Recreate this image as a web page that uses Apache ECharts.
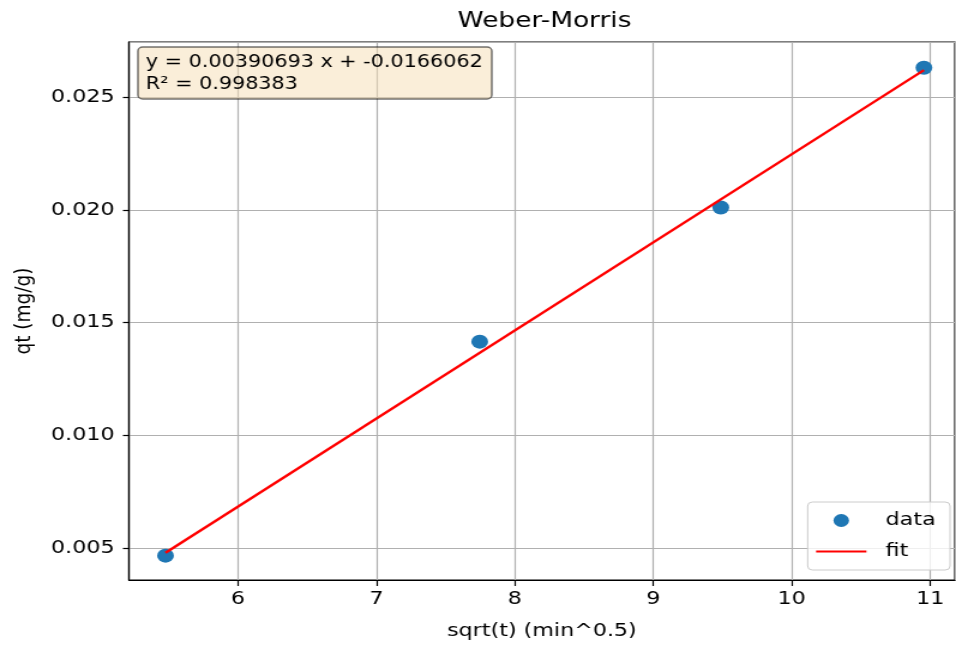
<!DOCTYPE html>
<html>
<head>
<meta charset="utf-8">
<script src="https://cdn.jsdelivr.net/npm/echarts@6/dist/echarts.min.js"></script>
<style>
  html, body { margin: 0; padding: 0; background: #fff; overflow: hidden; }
  /* the reference image is stretched sideways, so draw narrower and widen it */
  #main { width: 797px; height: 649px; transform: scaleX(1.1995); transform-origin: 0 0; }
</style>
</head>
<body>
<div id="main"></div>
<script>
var sqrtT = [5.477, 7.746, 9.487, 10.954];
var qt = [0.00466, 0.01415, 0.02010, 0.02630];
var fitX = [5.477, 10.954];
var fitY = [0.00479, 0.02619];
var fitText = ['y = 0.00390693 x + -0.0166062', 'R\u00b2 = 0.998383'];

var FONT = 'DejaVu Sans';

var chart = echarts.init(document.getElementById('main'));

function pairs(xs, ys) {
    return xs.map(function (x, i) { return [x, ys[i]]; });
}

chart.setOption({
    animation: false,
    backgroundColor: '#fff',
    title: {
        text: 'Weber-Morris',
        left: 454,
        top: 10,
        padding: 0,
        textAlign: 'center',
        textStyle: { fontFamily: FONT, fontSize: 22, fontWeight: 'normal', color: '#000' }
    },
    grid: {
        left: 107.5, right: 1, top: 42, bottom: 69,
        show: true, borderColor: '#000', borderWidth: 1.2, backgroundColor: 'transparent'
    },
    legend: {
        orient: 'vertical',
        right: 5,
        bottom: 79,
        data: [
            { name: 'data' },
            { name: 'fit', itemStyle: { opacity: 0 } }
        ],
        itemWidth: 42,
        itemHeight: 13,
        itemGap: 12,
        padding: [9, 12, 9, 6],
        backgroundColor: 'rgba(255,255,255,0.8)',
        borderColor: '#cccccc',
        borderWidth: 1,
        borderRadius: 4,
        textStyle: { fontFamily: FONT, fontSize: 18.5, color: '#000', padding: [0, 0, 0, 11] }
    },
    xAxis: {
        type: 'value',
        min: 5.213,
        max: 11.177,
        name: 'sqrt(t) (min^0.5)',
        nameLocation: 'middle',
        nameGap: 42,
        nameTextStyle: { fontFamily: FONT, fontSize: 18.5, color: '#000' },
        axisLine: { lineStyle: { color: '#000', width: 1.2 } },
        axisTick: { show: true, length: 6, lineStyle: { color: '#000', width: 1.2 } },
        axisLabel: {
            fontFamily: FONT, fontSize: 18.5, color: '#000', margin: 10,
            showMinLabel: false, showMaxLabel: false,
            formatter: function (v) { return String(Math.round(v)); }
        },
        splitLine: { show: true, lineStyle: { color: '#b0b0b0', width: 1.2 } }
    },
    yAxis: {
        type: 'value',
        min: 0.003581,
        max: 0.027439,
        name: 'qt (mg/g)',
        nameLocation: 'middle',
        nameGap: 78,
        nameTextStyle: { fontFamily: FONT, fontSize: 18.5, color: '#000' },
        axisLine: { show: true, lineStyle: { color: '#000', width: 1.2 } },
        axisTick: { show: true, length: 5, lineStyle: { color: '#000', width: 1.2 } },
        axisLabel: {
            fontFamily: FONT, fontSize: 18.5, color: '#000', margin: 12,
            showMinLabel: false, showMaxLabel: false,
            formatter: function (v) { return v.toFixed(3); }
        },
        splitLine: { show: true, lineStyle: { color: '#b0b0b0', width: 1.2 } }
    },
    series: [
        {
            name: 'data',
            type: 'scatter',
            symbol: 'circle',
            symbolSize: 14,
            itemStyle: { color: '#1f77b4', opacity: 1 },
            data: pairs(sqrtT, qt),
            z: 3
        },
        {
            name: 'fit',
            type: 'line',
            symbol: 'none',
            lineStyle: { color: '#ff0000', width: 2.4 },
            itemStyle: { color: '#ff0000' },
            data: pairs(fitX, fitY),
            z: 4
        }
    ],
    graphic: [
        {
            type: 'rect',
            shape: { x: 115, y: 47, width: 295, height: 52, r: 4 },
            style: { fill: 'rgba(245,222,179,0.5)', stroke: 'rgba(0,0,0,0.55)', lineWidth: 1.5 },
            z: 10
        },
        {
            type: 'text',
            x: 121.5,
            y: 52,
            style: {
                text: fitText.join('\n'),
                fontFamily: FONT,
                fontSize: 17.3,
                lineHeight: 22,
                fill: '#000'
            },
            z: 11
        }
    ]
});
</script>
</body>
</html>
